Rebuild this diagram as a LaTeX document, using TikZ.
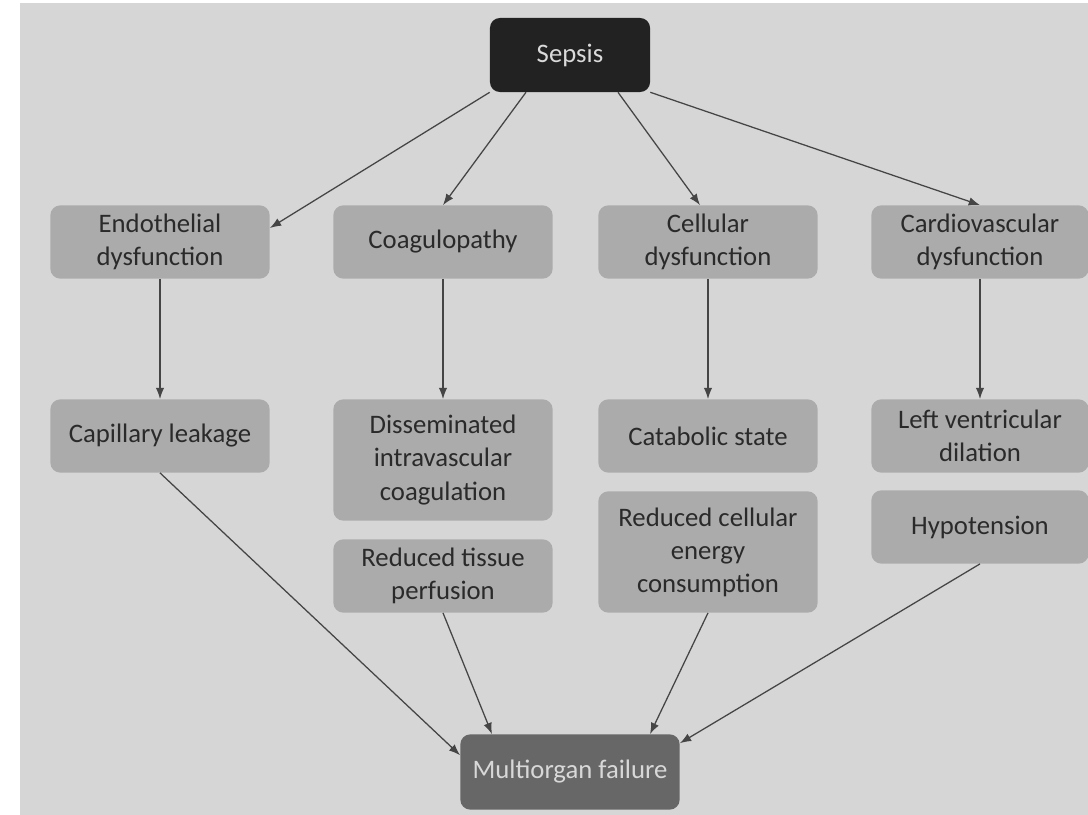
\documentclass[tikz,border=0pt]{standalone}
\usepackage{fontspec}
\setmainfont{Carlito}
\definecolor{SPBack}{HTML}{D6D6D6}
\definecolor{SPBox}{HTML}{ABABAB}
\definecolor{SPDark}{HTML}{222222}
\definecolor{SPFail}{HTML}{676767}
\definecolor{SPLine}{HTML}{454545}
\definecolor{SPText}{HTML}{2A2A2A}
\usetikzlibrary{positioning,arrows.meta}

\begin{document}
\begin{tikzpicture}[x=0.025cm, y=-0.025cm, font=\fontsize{19}{23.5}\selectfont,
    box/.style={fill=SPBox, rounded corners=7pt, minimum width=5.48cm, minimum height=1.83cm,
      align=center, text=SPText, inner sep=2pt},
    tall/.style={box, minimum height=3.03cm},
    arr/.style={draw=SPLine, line width=0.9pt, -{Latex[length=8pt, width=6pt]}}]
  \useasboundingbox (0,0) rectangle (1088,815);
  \fill[SPBack] (20,3) rectangle (1088,815);

  \node[box, fill=SPDark, text=SPBack!90, minimum width=4cm, minimum height=1.85cm] (sepsis) at (570,55) {Sepsis};

  \node[box] (endo) at (160,242) {Endothelial\\dysfunction};
  \node[box] (coag) at (443,242) {Coagulopathy};
  \node[box] (cell) at (708,242) {Cellular\\dysfunction};
  \node[box, minimum width=5.43cm] (cardio) at (980,242) {Cardiovascular\\dysfunction};

  \node[box] (leak) at (160,436) {Capillary leakage};
  \node[tall] (dic) at (443,460) {Disseminated\\intravascular\\coagulation};
  \node[box] (perf) at (443,576) {Reduced tissue\\perfusion};
  \node[box] (catab) at (708,436) {Catabolic state};
  \node[tall] (energy) at (708,552) {Reduced cellular\\energy\\consumption};
  \node[box, minimum width=5.43cm] (lvd) at (980,436) {Left ventricular\\dilation};
  \node[box, minimum width=5.43cm] (hypo) at (980,527) {Hypotension};

  \node[box, fill=SPFail, text=SPBack!95, minimum height=1.88cm] (mof) at (570,772) {Multiorgan failure};

  \draw[arr] (sepsis.south west) -- ([yshift=0.35cm]endo.east);
  \draw[arr] ([xshift=-1.1cm]sepsis.south) -- (coag.north);
  \draw[arr] ([xshift=1.2cm]sepsis.south) -- ([xshift=-0.2cm]cell.north);
  \draw[arr] (sepsis.south east) -- (cardio.north);

  \draw[arr] (endo) -- (leak);
  \draw[arr] (coag) -- (dic);
  \draw[arr] (cell) -- (catab);
  \draw[arr] (cardio) -- (lvd);

  \draw[arr] (leak.south) -- ([yshift=0.42cm]mof.west);
  \draw[arr] (perf.south) -- ([xshift=-1.95cm]mof.north);
  \draw[arr] (energy.south) -- ([xshift=2cm]mof.north);
  \draw[arr] (hypo.south) -- ([yshift=0.72cm]mof.east);
\end{tikzpicture}
\end{document}
